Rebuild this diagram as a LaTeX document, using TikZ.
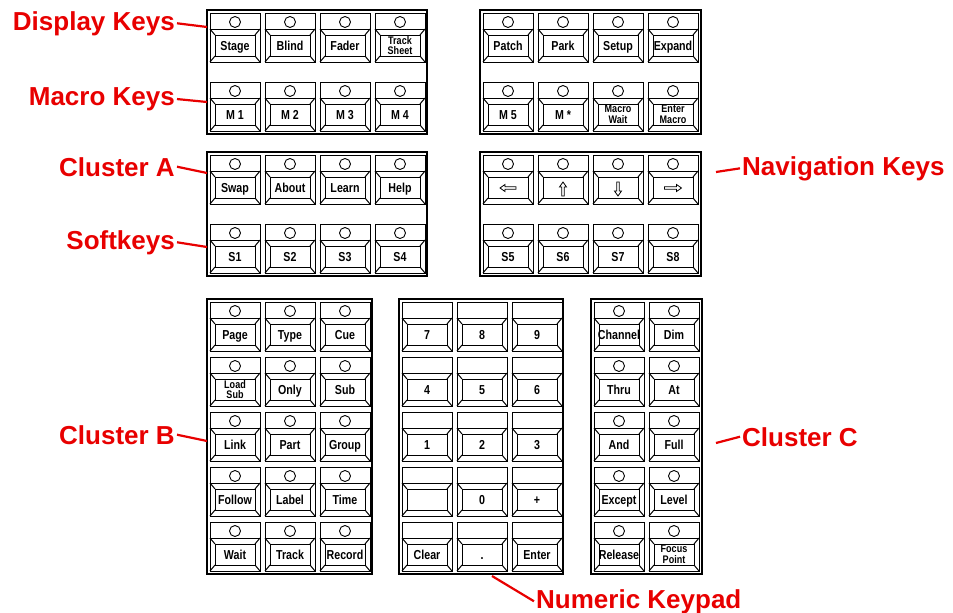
\documentclass[tikz,border=0pt]{standalone}
\usepackage{fontspec}
\setmainfont{Liberation Sans}
\newfontfamily\keyfont[FakeStretch=0.82]{Liberation Sans}
\usetikzlibrary{calc}
\definecolor{lblred}{RGB}{232,0,0}
\tikzset{
  keyline/.style={line width=1.0pt, black},
  panel/.style={line width=1.4pt, black},
  one/.style={font=\keyfont\bfseries\fontsize{13}{13}\selectfont, inner sep=0pt, anchor=base, yshift=-5.2pt},
  two/.style={font=\keyfont\bfseries\fontsize{11}{10.6}\selectfont, inner sep=0pt, align=center, anchor=center},
  lbl/.style={font=\bfseries\fontsize{26}{26}\selectfont, text=lblred, inner sep=2pt},
  redline/.style={lblred, line width=2.2pt}
}
% #1 name, #2 x, #3 y, #4 text, #5 led (1/0), #6 label style
\newcommand\kkey[6]{%
  \begin{scope}[shift={(#2,#3)}]
    \draw[keyline] (0,0) rectangle (50,49);
    \draw[keyline] (0,16) -- (50,16);
    \draw[keyline] (5,22) rectangle (45,43);
    \draw[keyline] (0,16) -- (5,22) (50,16) -- (45,22) (0,49) -- (5,43) (50,49) -- (45,43);
    \ifnum#5=1 \draw[keyline, line width=0.9pt] (25,9) circle (5.5pt);\fi
    \if\relax\detokenize{#4}\relax\else\node[#6] (#1) at (25,32.5) {#4};\fi
  \end{scope}}
% #1 cx, #2 cy, #3 rotation, #4 half length
\newcommand\navarrow[4]{%
  \begin{scope}[shift={(#1,#2)}, rotate=#3]
    \draw[keyline, line width=0.8pt] (-#4,0) -- (-#4+5,3.5) -- (-#4+5,1.3) -- (#4,1.3) -- (#4,-1.3) -- (-#4+5,-1.3) -- (-#4+5,-3.5) -- cycle;
  \end{scope}}
\begin{document}
\begin{tikzpicture}[x=1pt,y=-1pt]
\useasboundingbox (0,0) rectangle (953,613);
% panels
\draw[panel] (207,10) rectangle (427,134);
\draw[panel] (480,10) rectangle (701,134);
\draw[panel] (207,152) rectangle (427,276);
\draw[panel] (480,152) rectangle (701,276);
\draw[panel] (207,299) rectangle (372,574);
\draw[panel] (399,299) rectangle (563,574);
\draw[panel] (591,299) rectangle (702,574);
% panel 1
\kkey{stage}{210}{13}{Stage}{1}{one}
\kkey{blind}{265}{13}{Blind}{1}{one}
\kkey{fader}{320}{13}{Fader}{1}{one}
\kkey{track}{375}{13}{Track\\Sheet}{1}{two}
\kkey{m1}{210}{82}{M 1}{1}{one}
\kkey{m2}{265}{82}{M 2}{1}{one}
\kkey{m3}{320}{82}{M 3}{1}{one}
\kkey{m4}{375}{82}{M 4}{1}{one}
% panel 2
\kkey{patch}{483}{13}{Patch}{1}{one}
\kkey{park}{538}{13}{Park}{1}{one}
\kkey{setup}{593}{13}{Setup}{1}{one}
\kkey{expand}{648}{13}{Expand}{1}{one}
\kkey{m5}{483}{82}{M 5}{1}{one}
\kkey{mstar}{538}{82}{M *}{1}{one}
\kkey{mwait}{593}{82}{Macro\\Wait}{1}{two}
\kkey{emacro}{648}{82}{Enter\\Macro}{1}{two}
% panel 3
\kkey{swap}{210}{155}{Swap}{1}{one}
\kkey{about}{265}{155}{About}{1}{one}
\kkey{learn}{320}{155}{Learn}{1}{one}
\kkey{help}{375}{155}{Help}{1}{one}
\kkey{s1}{210}{224}{S1}{1}{one}
\kkey{s2}{265}{224}{S2}{1}{one}
\kkey{s3}{320}{224}{S3}{1}{one}
\kkey{s4}{375}{224}{S4}{1}{one}
% panel 4
\kkey{left}{483}{155}{}{1}{one}
\kkey{up}{538}{155}{}{1}{one}
\kkey{down}{593}{155}{}{1}{one}
\kkey{right}{648}{155}{}{1}{one}
\navarrow{508}{188}{0}{8}
\navarrow{563}{189}{-90}{7}
\navarrow{618}{189}{90}{7}
\navarrow{673}{188}{180}{8.5}
\kkey{s5}{483}{224}{S5}{1}{one}
\kkey{s6}{538}{224}{S6}{1}{one}
\kkey{s7}{593}{224}{S7}{1}{one}
\kkey{s8}{648}{224}{S8}{1}{one}
% cluster B
\kkey{page}{210}{302}{Page}{1}{one}
\kkey{type}{265}{302}{Type}{1}{one}
\kkey{cue}{320}{302}{Cue}{1}{one}
\kkey{loadsub}{210}{357}{Load\\Sub}{1}{two}
\kkey{only}{265}{357}{Only}{1}{one}
\kkey{sub}{320}{357}{Sub}{1}{one}
\kkey{link}{210}{412}{Link}{1}{one}
\kkey{part}{265}{412}{Part}{1}{one}
\kkey{group}{320}{412}{Group}{1}{one}
\kkey{follow}{210}{467}{Follow}{1}{one}
\kkey{label}{265}{467}{Label}{1}{one}
\kkey{time}{320}{467}{Time}{1}{one}
\kkey{wait}{210}{522}{Wait}{1}{one}
\kkey{trk}{265}{522}{Track}{1}{one}
\kkey{record}{320}{522}{Record}{1}{one}
% numeric keypad
\kkey{n7}{402}{302}{7}{0}{one}
\kkey{n8}{457}{302}{8}{0}{one}
\kkey{n9}{512}{302}{9}{0}{one}
\kkey{n4}{402}{357}{4}{0}{one}
\kkey{n5}{457}{357}{5}{0}{one}
\kkey{n6}{512}{357}{6}{0}{one}
\kkey{n1}{402}{412}{1}{0}{one}
\kkey{n2}{457}{412}{2}{0}{one}
\kkey{n3}{512}{412}{3}{0}{one}
\kkey{nblank}{402}{467}{}{0}{one}
\kkey{n0}{457}{467}{0}{0}{one}
\kkey{nplus}{512}{467}{+}{0}{one}
\kkey{clear}{402}{522}{Clear}{0}{one}
\kkey{dot}{457}{522}{.}{0}{one}
\kkey{enter}{512}{522}{Enter}{0}{one}
% cluster C
\kkey{channel}{594}{302}{Channel}{1}{one}
\kkey{dim}{649}{302}{Dim}{1}{one}
\kkey{thru}{594}{357}{Thru}{1}{one}
\kkey{at}{649}{357}{At}{1}{one}
\kkey{and}{594}{412}{And}{1}{one}
\kkey{full}{649}{412}{Full}{1}{one}
\kkey{except}{594}{467}{Except}{1}{one}
\kkey{level}{649}{467}{Level}{1}{one}
\kkey{release}{594}{522}{Release}{1}{one}
\kkey{focus}{649}{522}{Focus\\Point}{1}{two}
% labels
\node[lbl, anchor=base east] (ldisp) at (177,30) {Display Keys};
\node[lbl, anchor=base east] (lmacro) at (177,105.3) {Macro Keys};
\node[lbl, anchor=base east] (lca) at (177,176) {Cluster A};
\node[lbl, anchor=base east] (lsoft) at (177,249) {Softkeys};
\node[lbl, anchor=base east] (lcb) at (177,444) {Cluster B};
\node[lbl, anchor=base west] (lnav) at (740,175) {Navigation Keys};
\node[lbl, anchor=base west] (lcc) at (740,446) {Cluster C};
\node[lbl, anchor=base west] (lnum) at (534,608) {Numeric Keypad};
\coordinate (pdisp) at (207,27);
\coordinate (pmacro) at (207,102);
\coordinate (pca) at (207,173);
\coordinate (psoft) at (207,247);
\coordinate (pcb) at (207,441);
\coordinate (pnav) at (716,172);
\coordinate (pcc) at (716,443);
\coordinate (pnum) at (492,576);
\draw[redline] (ldisp.east) -- (pdisp);
\draw[redline] (lmacro.east) -- (pmacro);
\draw[redline] (lca.east) -- (pca);
\draw[redline] (lsoft.east) -- (psoft);
\draw[redline] (lcb.east) -- (pcb);
\draw[redline] (lnav.west) -- (pnav);
\draw[redline] (lcc.west) -- (pcc);
\draw[redline] (lnum.west) -- (pnum);
\end{tikzpicture}
\end{document}
